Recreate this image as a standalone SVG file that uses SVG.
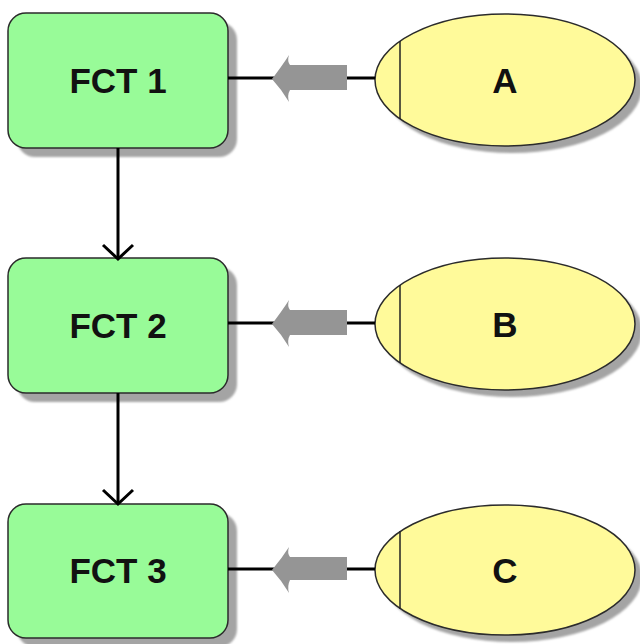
<svg xmlns="http://www.w3.org/2000/svg" width="640" height="644" viewBox="0 0 640 644">
<defs>
<style>
.box{fill:#98fb98;stroke:#2b2b2b;stroke-width:1.5}
.ell{fill:#fffa9a;stroke:#2b2b2b;stroke-width:1.5}
.sh{fill:#a4a4a4}
.lbl{font-family:"Liberation Sans",Arial,sans-serif;font-weight:bold;font-size:35px;fill:#111;text-anchor:middle}
.line{stroke:#000;stroke-width:3;fill:none}
.garrow{fill:#959595}
.inner{stroke:#222;stroke-width:1.5}
</style>
<filter id="blur" x="-10%" y="-10%" width="130%" height="130%"><feGaussianBlur stdDeviation="1"/></filter>
</defs>
<g id="fct1">
<rect class="sh" x="17" y="22" width="220" height="135" rx="18" filter="url(#blur)"/>
<rect class="box" x="8" y="13" width="220" height="135" rx="18"/>
<text class="lbl" x="118" y="93">FCT 1</text>
</g>
<g id="fct2">
<rect class="sh" x="17" y="267" width="220" height="135" rx="18" filter="url(#blur)"/>
<rect class="box" x="8" y="258" width="220" height="135" rx="18"/>
<text class="lbl" x="118" y="338">FCT 2</text>
</g>
<g id="fct3">
<rect class="sh" x="17" y="513" width="220" height="134" rx="18" filter="url(#blur)"/>
<rect class="box" x="8" y="504" width="220" height="134" rx="18"/>
<text class="lbl" x="118" y="583">FCT 3</text>
</g>
<g id="A">
<ellipse class="sh" cx="512" cy="87" rx="130" ry="66" filter="url(#blur)"/>
<ellipse class="ell" cx="505" cy="80" rx="130" ry="66"/>
<line class="inner" x1="400" y1="41" x2="400" y2="119"/>
<text class="lbl" x="505" y="93">A</text>
</g>
<g id="B">
<ellipse class="sh" cx="512" cy="331" rx="130" ry="66" filter="url(#blur)"/>
<ellipse class="ell" cx="505" cy="324" rx="130" ry="66"/>
<line class="inner" x1="400" y1="285" x2="400" y2="363"/>
<text class="lbl" x="505" y="337">B</text>
</g>
<g id="C">
<ellipse class="sh" cx="512" cy="577" rx="130" ry="65" filter="url(#blur)"/>
<ellipse class="ell" cx="505" cy="570" rx="130" ry="65"/>
<line class="inner" x1="400" y1="531" x2="400" y2="609"/>
<text class="lbl" x="505" y="583">C</text>
</g>
<g id="connectors">
<line class="line" x1="118" y1="148" x2="118" y2="258"/>
<polyline class="line" points="103,245 118,259 133,245"/>
<line class="line" x1="118" y1="393" x2="118" y2="503"/>
<polyline class="line" points="103,490 118,504 133,490"/>
<line class="line" x1="228" y1="78" x2="375" y2="78"/>
<path class="garrow" d="M272,79 Q282,66 289,55 Q287,61 290,65 L347,65 L347,90 L290,90 Q287,95 289,102 Q282,90 272,79 Z"/>
<line class="line" x1="228" y1="323" x2="375" y2="323"/>
<path class="garrow" d="M272,324 Q282,311 289,300 Q287,306 290,310 L347,310 L347,335 L290,335 Q287,340 289,347 Q282,335 272,324 Z"/>
<line class="line" x1="228" y1="569" x2="375" y2="569"/>
<path class="garrow" d="M272,570 Q282,558 289,547 Q287,553 290,557 L347,557 L347,580 L290,580 Q287,586 289,593 Q282,581 272,570 Z"/>
</g>
</svg>
